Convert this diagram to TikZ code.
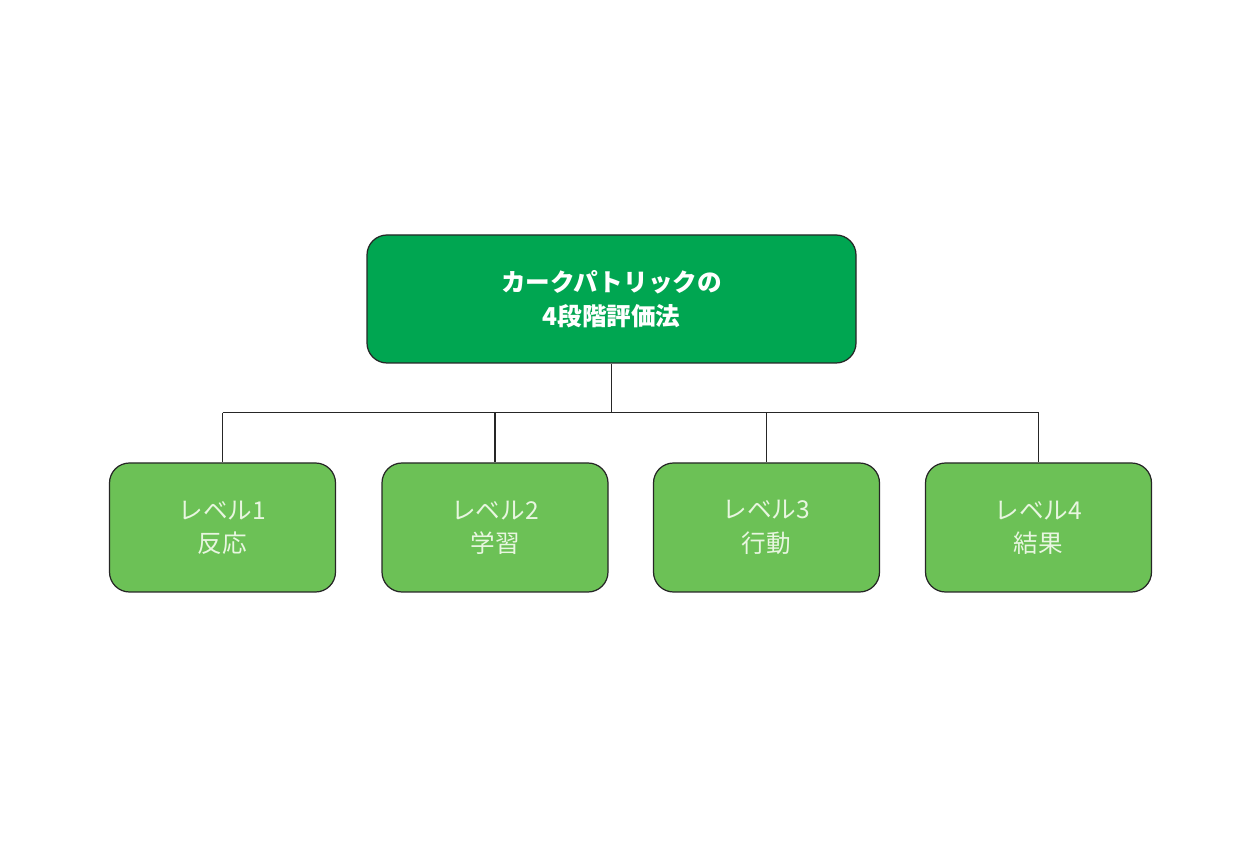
\documentclass[tikz,border=0pt]{standalone}
\usepackage{fontspec}
\newfontfamily\jp{Noto Sans CJK JP}
\definecolor{topgreen}{RGB}{0,166,81}
\definecolor{lvlgreen}{RGB}{108,193,86}
\definecolor{lvltext}{RGB}{232,246,224}
\begin{document}
\begin{tikzpicture}[
    box/.style={draw=black!85, line width=0.7pt, rounded corners=0.4cm, align=center, inner sep=0pt},
    topbox/.style={box, fill=topgreen, text=white, minimum width=9.78cm, minimum height=2.56cm, font=\jp\bfseries\fontsize{14}{19.5}\selectfont},
    lvlbox/.style={box, fill=lvlgreen, text=lvltext, minimum width=4.52cm, minimum height=2.58cm, font=\jp\fontsize{14}{19}\selectfont},
    link/.style={draw=black!85, line width=0.7pt}
  ]
  \useasboundingbox (0,0) rectangle (25.2,16.8);
  \node [topbox] (top) at (12.23,10.82) {カークパトリックの\\4段階評価法};
  \path (top.south) ++(0,-0.98) coordinate (bus);
  \node [lvlbox] (l1) at (4.45,6.25) {レベル1\\反応};
  \node [lvlbox] (l2) at (9.9,6.25) {レベル2\\学習};
  \node [lvlbox] (l3) at (15.33,6.25) {レベル3\\行動};
  \node [lvlbox] (l4) at (20.77,6.25) {レベル4\\結果};
  \draw [link] (top.south) -- (bus);
  \draw [link] (l1.north |- bus) -- (l4.north |- bus);
  \foreach \x in {l1,l2,l3,l4} \draw [link] (\x.north |- bus) -- (\x.north);
\end{tikzpicture}
\end{document}
